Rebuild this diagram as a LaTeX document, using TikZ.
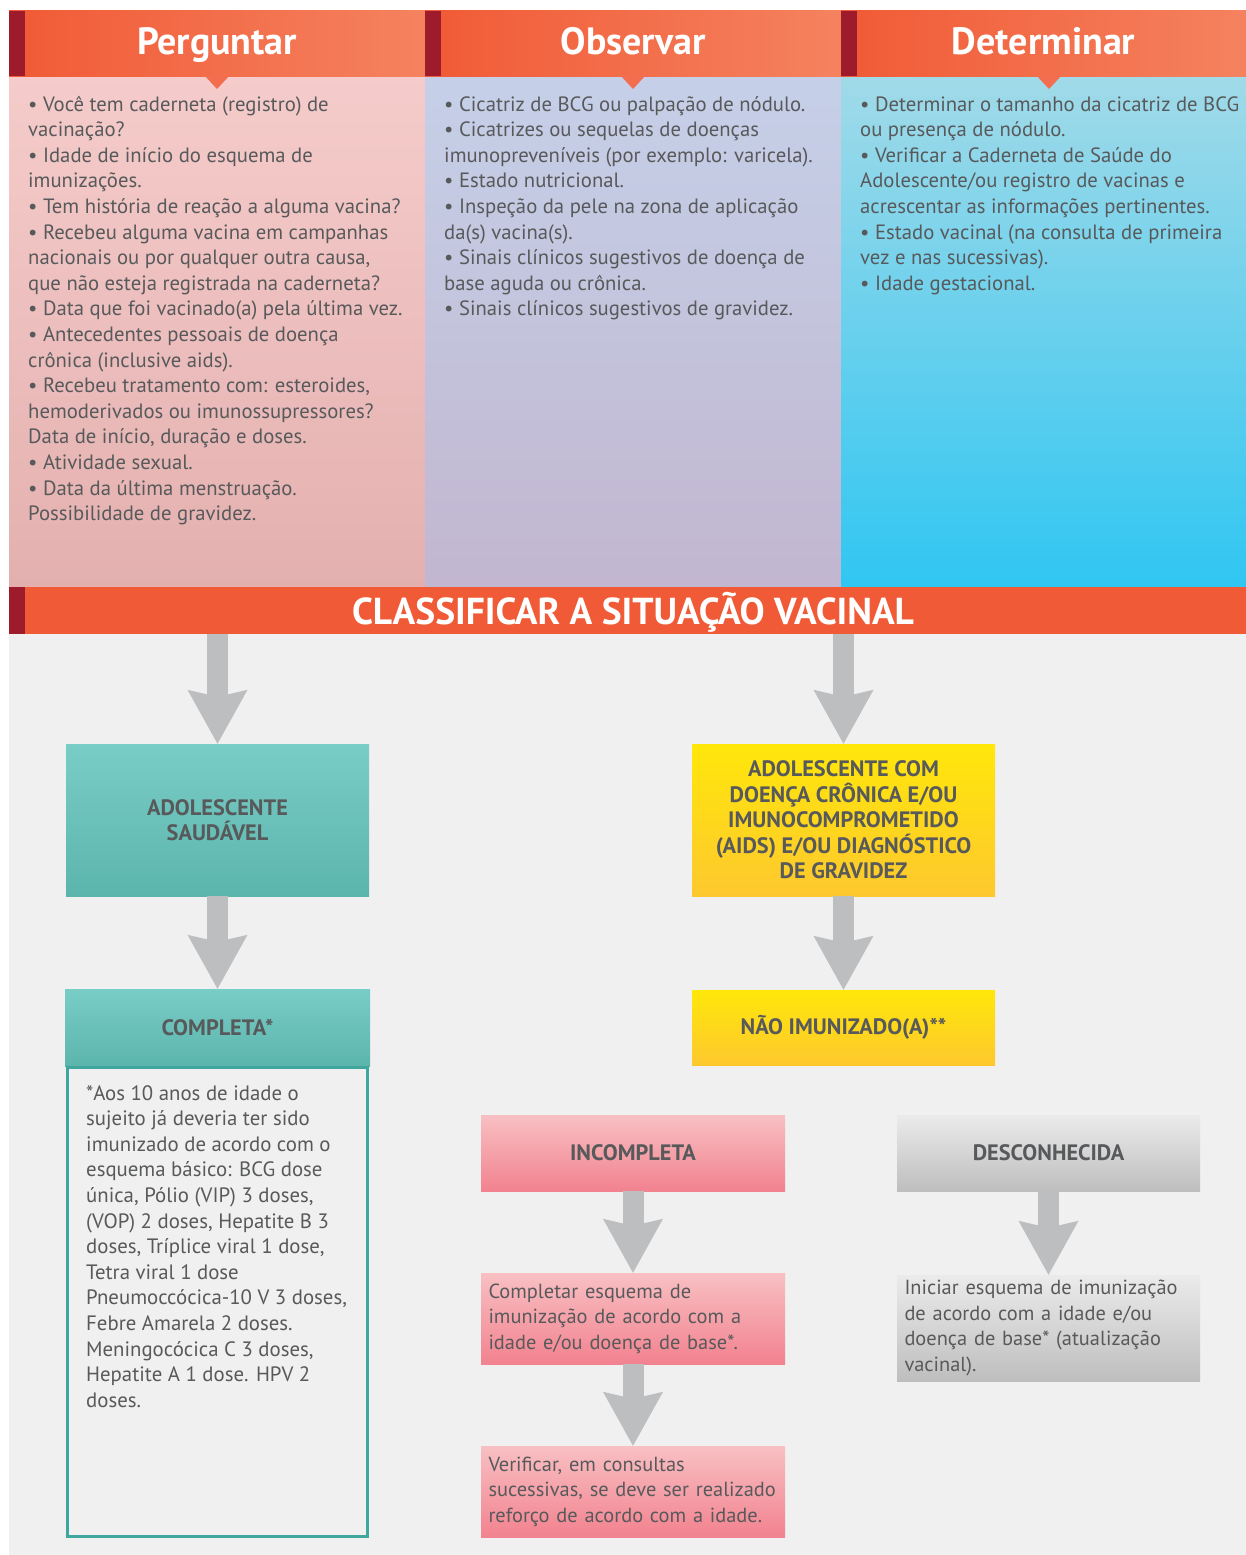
\documentclass[tikz,border=0pt]{standalone}
\usepackage{fontspec}
\setmainfont{PT Sans}
\usetikzlibrary{arrows.meta}
\definecolor{hdrorange}{HTML}{F15A36}
\definecolor{hdrlight}{HTML}{F5825F}
\definecolor{hdrpoint}{HTML}{F36E4E}
\definecolor{darkred}{HTML}{9D1B2A}
\definecolor{txtgray}{HTML}{58595B}
\definecolor{bggray}{HTML}{F0F0F0}
\definecolor{arrowgray}{HTML}{BDBEC0}
\definecolor{pinkA}{HTML}{F5CCCB}
\definecolor{pinkB}{HTML}{E3B0AF}
\definecolor{lilacA}{HTML}{C5D0E8}
\definecolor{lilacB}{HTML}{C2B6D0}
\definecolor{cyanA}{HTML}{A1DAE8}
\definecolor{cyanB}{HTML}{30C6F2}
\definecolor{tealA}{HTML}{79CDC7}
\definecolor{tealB}{HTML}{5CB5AC}
\definecolor{tealline}{HTML}{3FA79E}
\definecolor{yellowA}{HTML}{FFE70A}
\definecolor{yellowB}{HTML}{FDC82E}
\definecolor{rosaA}{HTML}{F8C0C3}
\definecolor{rosaB}{HTML}{F2828F}
\definecolor{greyA}{HTML}{EBEBEB}
\definecolor{greyB}{HTML}{BEBEBE}
\tikzset{
  hdr/.style={rectangle, minimum width=416pt, minimum height=65pt, inner sep=0pt,
    left color=hdrorange, right color=hdrlight, text=white, text height=23pt, text depth=0pt,
    font=\bfseries\fontsize{38}{44}\selectfont},
  strip/.style={rectangle, fill=darkred, minimum width=16pt, inner sep=0pt},
  bodytext/.style={anchor=north west, align=left, inner sep=0pt, text=txtgray,
    font=\fontsize{20.7}{25.6}\selectfont},
  boxtitle/.style={rectangle, minimum width=303pt, inner sep=0pt, align=center,
    text=txtgray, font=\bfseries\fontsize{22.3}{25.5}\selectfont},
  boxnote/.style={rectangle, minimum width=304pt, text width=289pt, inner xsep=7.5pt,
    inner ysep=0pt, align=left, text=txtgray, font=\fontsize{20.4}{25.6}\selectfont},
  bigarrow/.style={draw=arrowgray, line width=21pt,
    -{Stealth[length=54pt,width=60pt,inset=7pt,line width=0pt]}},
}
\begin{document}
\begin{tikzpicture}[x=1pt,y=-1pt]
\useasboundingbox (0,0) rectangle (1246,1555);
% column backgrounds
\shade[top color=pinkA, bottom color=pinkB] (9,76) rectangle (425,587);
\shade[top color=lilacA, bottom color=lilacB] (425,76) rectangle (841,587);
\shade[top color=cyanA, bottom color=cyanB] (841,76) rectangle (1246,587);
\fill[bggray] (9,634) rectangle (1246,1555);
% headers
\node[hdr] (pergHdr) at (217,43.5) {Perguntar};
\node[hdr] (obsHdr) at (633,43.5) {Observar};
\node[hdr, minimum width=405pt] (detHdr) at (1043.5,43.5) {Determinar};
\node[strip, minimum height=65pt] (pergStrip) at (17,43.5) {};
\node[strip, minimum height=65pt] (obsStrip) at (433,43.5) {};
\node[strip, minimum height=65pt] (detStrip) at (849,43.5) {};
\fill[hdrpoint] (204,75) -- (230,75) -- (217,89) -- cycle;
\fill[hdrpoint] (620,75) -- (646,75) -- (633,89) -- cycle;
\fill[hdrpoint] (1036,75) -- (1062,75) -- (1049,89) -- cycle;
% column texts
\node[bodytext] (pergText) at (28,93) {\strut• Você tem caderneta (registro) de\\
vacinação?\\
• Idade de início do esquema de\\
imunizações.\\
• Tem história de reação a alguma vacina?\\
• Recebeu alguma vacina em campanhas\\
nacionais ou por qualquer outra causa,\\
que não esteja registrada na caderneta?\\
• Data que foi vacinado(a) pela última vez.\\
• Antecedentes pessoais de doença\\
crônica (inclusive aids).\\
• Recebeu tratamento com: esteroides,\\
hemoderivados ou imunossupressores?\\
Data de início, duração e doses.\\
• Atividade sexual.\\
• Data da última menstruação.\\
Possibilidade de gravidez.};
\node[bodytext] (obsText) at (444,93) {\strut• Cicatriz de BCG ou palpação de nódulo.\\
• Cicatrizes ou sequelas de doenças\\
imunopreveníveis (por exemplo: varicela).\\
• Estado nutricional.\\
• Inspeção da pele na zona de aplicação\\
da(s) vacina(s).\\
• Sinais clínicos sugestivos de doença de\\
base aguda ou crônica.\\
• Sinais clínicos sugestivos de gravidez.};
\node[bodytext] (detText) at (860,93) {\strut• Determinar o tamanho da cicatriz de BCG\\
ou presença de nódulo.\\
• Verificar a Caderneta de Saúde do\\
Adolescente/ou registro de vacinas e\\
acrescentar as informações pertinentes.\\
• Estado vacinal (na consulta de primeira\\
vez e nas sucessivas).\\
• Idade gestacional.};
% classificar
\node[rectangle, fill=hdrorange, minimum width=1226pt, minimum height=47pt, inner sep=0pt,
  text=white, text height=27pt, text depth=0pt, font=\bfseries\fontsize{37.5}{44}\selectfont]
  (classif) at (633,610.5) {CLASSIFICAR A SITUAÇÃO VACINAL};
\node[strip, minimum height=47pt] (classifStrip) at (17,610.5) {};
% left branch
\node[boxtitle, top color=tealA, bottom color=tealB, minimum height=152pt] (saud) at (217.5,820)
  {ADOLESCENTE\\SAUDÁVEL};
\node[boxtitle, top color=tealA, bottom color=tealB, minimum width=305pt, minimum height=77pt]
  (compl) at (217.5,1027.5) {COMPLETA*};
\node[rectangle, draw=tealline, line width=3pt, minimum width=300pt, minimum height=469pt]
  (complBody) at (217.5,1302) {};
\node[bodytext, font=\fontsize{20.8}{25.6}\selectfont] (complText) at (86,1082) {\strut*Aos 10 anos de idade o\\
sujeito já deveria ter sido\\
imunizado de acordo com o\\
esquema básico: BCG dose\\
única, Pólio (VIP) 3 doses,\\
(VOP) 2 doses, Hepatite B 3\\
doses, Tríplice viral 1 dose,\\
Tetra viral 1 dose\\
Pneumoccócica-10 V 3 doses,\\
Febre Amarela 2 doses.\\
Meningocócica C 3 doses,\\
Hepatite A 1 dose. HPV 2\\
doses.};
% right branch
\node[boxtitle, top color=yellowA, bottom color=yellowB, minimum height=152pt] (cronica)
  at (843.5,820) {ADOLESCENTE COM\\DOENÇA CRÔNICA E/OU\\IMUNOCOMPROMETIDO\\(AIDS) E/OU DIAGNÓSTICO\\DE GRAVIDEZ};
\node[boxtitle, top color=yellowA, bottom color=yellowB, minimum height=75pt] (naoimun)
  at (843.5,1027.5) {NÃO IMUNIZADO(A)**};
\node[boxtitle, top color=rosaA, middle color=rosaA, bottom color=rosaB, minimum width=304pt,
  minimum height=76pt] (incompl) at (633,1153) {INCOMPLETA};
\node[boxnote, top color=rosaA, middle color=rosaA, bottom color=rosaB, minimum height=91pt]
  (completar) at (633,1318.5) {Completar esquema de\\imunização de acordo com a\\idade e/ou doença de base*.};
\node[boxnote, top color=rosaA, middle color=rosaA, bottom color=rosaB, minimum height=91pt]
  (verificar) at (633,1491.5) {Verificar, em consultas\\sucessivas, se deve ser realizado\\reforço de acordo com a idade.};
\node[boxtitle, top color=greyA, bottom color=greyB, minimum height=76pt] (desconh)
  at (1048.5,1153) {DESCONHECIDA};
\node[boxnote, minimum width=303pt, text width=288pt, top color=greyA, bottom color=greyB,
  minimum height=106pt] (iniciar) at (1048.5,1328)
  {Iniciar esquema de imunização\\de acordo com a idade e/ou\\doença de base* (atualização\\vacinal).};
% arrows
\draw[bigarrow] (classif.south -| saud) -- (saud);
\draw[bigarrow] (saud) -- (compl);
\draw[bigarrow] (classif.south -| cronica) -- (cronica);
\draw[bigarrow] (cronica) -- (naoimun);
\draw[bigarrow] (incompl) -- (completar);
\draw[bigarrow] (completar) -- (verificar);
\draw[bigarrow] (desconh) -- (iniciar);
\end{tikzpicture}
\end{document}
